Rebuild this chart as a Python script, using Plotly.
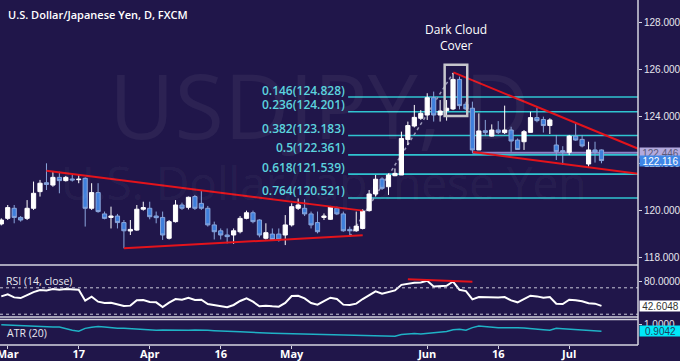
import pandas as pd
import plotly.graph_objects as go

# ---------------- data ----------------
dates = pd.bdate_range("2015-02-27", "2015-07-08").strftime("%Y-%m-%d").tolist()

open_ = [119.41, 119.65, 120.08, 119.69, 119.65, 120.08, 120.79, 121.17, 121.07, 121.40,
         121.26, 121.33, 121.30, 121.36, 120.08, 120.75, 119.84, 119.69, 119.75, 119.47,
         119.11, 119.15, 120.04, 120.08, 119.75, 119.69, 118.80, 119.51, 120.22, 120.12,
         120.58, 120.29, 120.08, 119.37, 119.12, 118.94, 118.94, 119.08, 119.65, 119.89,
         119.58, 118.80, 118.98, 118.98, 118.94, 119.37, 120.08, 120.08, 119.84, 119.47,
         119.69, 119.61, 120.08, 119.84, 119.18, 119.12, 119.22, 119.98, 120.69, 121.33,
         121.00, 121.47, 121.50, 123.02, 123.59, 123.92, 124.06, 124.80, 124.06, 124.25,
         124.32, 125.58, 124.52, 124.35, 122.57, 123.39, 123.16, 123.42, 123.31, 123.42,
         122.99, 122.92, 123.32, 123.95, 123.87, 123.61, 122.78, 122.54, 122.47, 123.16,
         123.02, 121.97, 122.57, 122.57]
high = [119.65, 120.22, 120.22, 119.75, 120.43, 121.22, 121.29, 122.00, 121.64, 121.64,
        121.46, 121.50, 121.50, 121.40, 121.15, 121.15, 119.94, 120.15, 119.84, 119.58,
        119.58, 120.22, 120.36, 120.36, 119.94, 119.94, 119.58, 120.43, 120.32, 120.58,
        120.65, 120.86, 120.18, 119.51, 119.22, 119.22, 119.22, 119.75, 119.98, 119.98,
        119.61, 119.44, 119.22, 119.22, 119.79, 120.29, 120.50, 120.46, 119.94, 119.94,
        119.86, 120.18, 120.15, 119.94, 119.30, 119.94, 120.04, 120.86, 121.50, 121.40,
        121.57, 121.78, 123.35, 123.78, 124.49, 124.27, 124.99, 125.06, 124.70, 124.70,
        125.86, 125.70, 124.63, 124.63, 124.13, 123.85, 123.66, 123.80, 124.46, 123.56,
        123.06, 123.42, 124.20, 124.37, 123.99, 123.92, 123.21, 122.73, 123.21, 123.73,
        123.21, 122.92, 122.92, 122.59]
low = [119.35, 119.58, 119.44, 119.51, 119.58, 120.01, 120.58, 120.86, 121.00, 120.72,
       121.22, 121.22, 121.15, 119.30, 120.01, 119.89, 119.61, 119.22, 119.22, 118.37,
       118.94, 119.12, 119.98, 119.61, 119.44, 118.73, 118.75, 119.47, 120.01, 120.03,
       120.01, 120.01, 119.30, 118.75, 118.75, 118.58, 118.56, 119.01, 119.61, 119.44,
       118.84, 118.75, 118.73, 118.66, 118.51, 119.30, 120.01, 119.75, 119.22, 119.01,
       119.58, 119.58, 119.79, 119.08, 118.88, 119.08, 119.18, 119.94, 120.58, 120.86,
       120.65, 121.45, 121.50, 122.78, 123.53, 123.85, 123.85, 123.78, 123.78, 123.82,
       124.27, 124.30, 124.27, 122.45, 122.57, 123.16, 123.14, 123.25, 123.25, 122.49,
       122.57, 122.57, 123.31, 123.75, 123.31, 123.25, 122.14, 121.93, 122.35, 122.96,
       122.68, 121.86, 122.03, 122.00]
close = [119.58, 120.11, 119.69, 119.58, 120.08, 120.72, 121.15, 121.10, 121.40, 121.26,
         121.40, 121.29, 121.32, 120.08, 120.75, 119.94, 119.65, 119.75, 119.47, 119.12,
         119.18, 120.04, 120.11, 119.72, 119.68, 118.94, 119.51, 120.22, 120.08, 120.55,
         120.08, 120.08, 119.37, 119.08, 118.94, 118.87, 119.12, 119.65, 119.89, 119.51,
         118.94, 119.04, 118.75, 118.73, 119.37, 120.15, 120.22, 119.84, 119.37, 119.08,
         119.75, 120.15, 119.84, 119.12, 119.12, 119.32, 119.96, 120.69, 121.32, 120.93,
         121.50, 121.57, 123.06, 123.61, 123.96, 124.13, 124.80, 124.06, 124.23, 124.35,
         125.58, 124.46, 124.32, 122.57, 123.38, 123.32, 123.42, 123.32, 123.42, 122.95,
         122.59, 123.35, 123.95, 123.82, 123.61, 123.85, 122.50, 122.48, 123.16, 122.99,
         122.74, 122.57, 122.48, 122.116]

rsi = [57, 60, 55.5, 54.5, 59, 63.5, 66.5, 66, 68, 67,
       68, 67, 67, 50.5, 56.5, 49, 47, 47.5, 45.5, 42.5,
       43, 51, 51.5, 48.5, 48, 41, 47.5, 53, 52, 55,
       51.5, 52, 45.5, 43.5, 42, 40.5, 44, 50, 54, 49,
       42, 43, 42, 41.5, 47, 57.5, 58, 54, 47, 44.5,
       50, 55, 53, 44.5, 44, 46, 53, 59, 64.5, 61,
       64, 66, 74.5, 76.5, 77.5, 78, 80.5, 72, 72.5, 73,
       79.5, 67, 65, 52.5, 56, 55.5, 56, 55.5, 56, 51,
       48, 53, 58, 57, 55, 56, 46, 45.5, 52, 51,
       49.5, 46.5, 46, 42.6048]

atr = [0.995, 0.99, 0.985, 0.98, 0.978, 0.977, 0.972, 0.968, 0.965, 0.963,
       0.94, 0.92, 0.905, 0.945, 0.96, 0.972, 0.965, 0.955, 0.945, 0.948,
       0.94, 0.935, 0.928, 0.922, 0.918, 0.922, 0.92, 0.925, 0.92, 0.918,
       0.922, 0.925, 0.918, 0.912, 0.905, 0.902, 0.9, 0.896, 0.89, 0.886,
       0.883, 0.88, 0.877, 0.875, 0.872, 0.87, 0.867, 0.866, 0.862, 0.858,
       0.855, 0.852, 0.849, 0.848, 0.846, 0.845, 0.844, 0.842, 0.84, 0.838,
       0.836, 0.835, 0.86, 0.868, 0.872, 0.865, 0.872, 0.885, 0.895, 0.9,
       0.925, 0.932, 0.918, 0.955, 0.978, 0.97, 0.958, 0.952, 0.955, 0.958,
       0.955, 0.95, 0.945, 0.935, 0.925, 0.918, 0.945, 0.94, 0.935, 0.932,
       0.925, 0.918, 0.912, 0.9042]

fib_ratios = ["0.146", "0.236", "0.382", "0.5", "0.618", "0.764"]
fib_levels = [124.828, 124.201, 123.183, 122.361, 121.539, 120.521]

price_ticks = [118, 120, 122, 124, 126, 128]
month_tick_dates = ["2015-03-02", "2015-03-17", "2015-04-01", "2015-04-16",
                    "2015-05-01", "2015-06-01", "2015-06-16", "2015-07-01"]
month_tick_text = ["Mar", "17", "Apr", "16", "May", "Jun", "16", "Jul"]

last_price = 122.116
level_line = 122.446
rsi_last = 42.6048
atr_last = 0.9042

# trend lines (category index, value)
upper_left = [(7, 121.68), (56, 119.98)]
lower_left = [(19, 118.37), (56, 118.93)]
upper_right = [(70.05, 125.88), (98.7, 122.62)]
lower_right = [(73.1, 122.48), (98.7, 121.55)]
rsi_div = [(63, 83.0), (73, 79.3)]
fib_swing = [(54, 118.876), (70, 125.845)]

# ---------------- layout constants ----------------
W, H = 680, 361
PW, PH = 638, 345   # plot area (pixels)
BG = "#20164a"
WHITE = "#ffffff"
BLUE = "#3f7fdc"
CYAN = "#2fc4d0"
RED = "#e3131b"
GRID = "#d4d4e0"


def fx(px):
    return px / PW


def fy(py):
    return (PH - py) / PH


X_RANGE = [-0.2, 98.66]

fig = go.Figure()

fig.add_trace(go.Candlestick(
    x=dates, open=open_, high=high, low=low, close=close,
    xaxis="x", yaxis="y",
    increasing=dict(line=dict(color=WHITE, width=1), fillcolor=WHITE),
    decreasing=dict(line=dict(color="#8aa6dc", width=1), fillcolor=BLUE),
    whiskerwidth=0, showlegend=False, hoverinfo="skip",
))
fig.add_trace(go.Scatter(x=dates, y=rsi, xaxis="x", yaxis="y2", mode="lines",
                         line=dict(color=WHITE, width=2), showlegend=False, hoverinfo="skip"))
fig.add_trace(go.Scatter(x=dates, y=atr, xaxis="x", yaxis="y3", mode="lines",
                         line=dict(color="#1fb2c6", width=1.5), showlegend=False, hoverinfo="skip"))

shapes = []
for lv in fib_levels:
    shapes.append(dict(type="line", xref="x", yref="y", x0=53.74, x1=99, y0=lv, y1=lv,
                       line=dict(color=CYAN, width=1.6), layer="below"))
shapes.append(dict(type="line", xref="x", yref="y", x0=73, x1=99, y0=level_line, y1=level_line,
                   line=dict(color="#8f84c8", width=2), layer="below"))
shapes.append(dict(type="line", xref="x", yref="y", x0=fib_swing[0][0], y0=fib_swing[0][1],
                   x1=fib_swing[1][0], y1=fib_swing[1][1],
                   line=dict(color="#9a98b8", width=1.5, dash="dot"), layer="below"))
for seg in [upper_left, lower_left, upper_right, lower_right]:
    shapes.append(dict(type="line", xref="x", yref="y", x0=seg[0][0], y0=seg[0][1],
                       x1=seg[1][0], y1=seg[1][1], line=dict(color=RED, width=2)))
shapes.append(dict(type="line", xref="x", yref="y2", x0=rsi_div[0][0], y0=rsi_div[0][1],
                   x1=rsi_div[1][0], y1=rsi_div[1][1], line=dict(color=RED, width=2)))
shapes.append(dict(type="rect", xref="x", yref="y", x0=68.7, x1=72.2, y0=124.02, y1=126.2,
                   line=dict(color="#c6c6cc", width=2.5)))
for lv in [70, 30]:
    shapes.append(dict(type="line", xref="paper", yref="y2", x0=0, x1=1, y0=lv, y1=lv,
                       line=dict(color="#c8c8d8", width=1, dash="dot")))
for py in [265, 317, 319.5, 345]:
    shapes.append(dict(type="line", xref="paper", yref="paper", x0=0, x1=1,
                       y0=fy(py), y1=fy(py), line=dict(color=GRID, width=1.5)))
shapes.append(dict(type="line", xref="paper", yref="paper", x0=1, x1=1, y0=0, y1=1,
                   line=dict(color=GRID, width=1.5)))

ann = []
ann.append(dict(text="USDJPY, D", xref="paper", yref="paper", x=fx(319), y=fy(104),
                xanchor="center", yanchor="middle", showarrow=False,
                font=dict(family="Open Sans", size=90, color="rgba(255,255,255,0.055)")))
ann.append(dict(text="U.S. Dollar/Japanese Yen", xref="paper", yref="paper", x=fx(324), y=fy(182),
                xanchor="center", yanchor="middle", showarrow=False,
                font=dict(family="Open Sans", size=46, color="rgba(255,255,255,0.055)")))
ann.append(dict(text="U.S. Dollar/Japanese Yen, D, FXCM", xref="paper", yref="paper",
                x=fx(6), y=fy(14), xanchor="left", yanchor="middle", showarrow=False,
                font=dict(family="Open Sans", size=11, color=WHITE, weight=600)))
ann.append(dict(text="Dark Cloud<br>Cover", xref="paper", yref="paper",
                x=fx(456), y=fy(37), xanchor="center", yanchor="middle", showarrow=False,
                align="center", font=dict(family="Open Sans", size=12, color=WHITE)))
for r, lv in zip(fib_ratios, fib_levels):
    ann.append(dict(text=f"{r}({lv:.3f})", xref="x", yref="y", x=53.5, y=lv,
                    xanchor="right", yanchor="middle", yshift=7, showarrow=False,
                    font=dict(family="Open Sans", size=12, color="#5cd3de", weight=600)))
ann.append(dict(text="RSI (14, close)", xref="paper", yref="paper", x=fx(4), y=fy(280.5),
                xanchor="left", yanchor="middle", showarrow=False,
                font=dict(family="Open Sans", size=10.5, color="#e8e8f0")))
ann.append(dict(text="ATR (20)", xref="paper", yref="paper", x=fx(5), y=fy(332.5),
                xanchor="left", yanchor="middle", showarrow=False,
                font=dict(family="Open Sans", size=10.5, color="#e8e8f0")))
for val, yref, bg, fg in [(level_line, "y", "#b3aade", "#5a5a7a"),
                          (last_price, "y", "#3f86e6", WHITE),
                          (rsi_last, "y2", "#ffffff", "#333333"),
                          (atr_last, "y3", "#00e8f8", "#204060")]:
    txt = f"{val:.3f}" if yref == "y" else f"{val:.4f}"
    ann.append(dict(text=txt, xref="paper", yref=yref, x=1, y=val, xanchor="left",
                    yanchor="middle", showarrow=False, xshift=0.5, width=41, height=10,
                    bgcolor=bg, borderpad=0,
                    font=dict(family="Liberation Sans", size=10, color=fg)))

axis_font = dict(family="Liberation Sans", size=10, color="#e6e6ee")
common_y = dict(anchor="x", side="right", showgrid=False, zeroline=False, tickmode="array",
                ticks="outside", ticklen=3, tickcolor=GRID, tickfont=axis_font,
                automargin=False, fixedrange=True)

fig.update_layout(
    width=W, height=H,
    margin=dict(l=0, r=W - PW, t=0, b=H - PH, autoexpand=False),
    paper_bgcolor=BG, plot_bgcolor=BG,
    showlegend=False, hovermode=False,
    boxgap=0.35, boxgroupgap=0,
    shapes=shapes, annotations=ann,
    xaxis=dict(type="category", domain=[0, 1], anchor="y3", range=X_RANGE,
               rangeslider=dict(visible=False), showgrid=False, zeroline=False,
               tickmode="array", tickvals=month_tick_dates, ticktext=month_tick_text,
               ticks="outside", ticklen=3, tickcolor=GRID, showline=False,
               ticklabelstandoff=-4,
               automargin=False, fixedrange=True,
               tickfont=dict(family="Open Sans", size=11, color=WHITE, weight=700)),
    yaxis=dict(domain=[fy(265), 1], range=[117.66, 128.968], tickvals=price_ticks,
               ticktext=[f"{v:.3f}" for v in price_ticks], **common_y),
    yaxis2=dict(domain=[fy(317), fy(265)], range=[25.8, 104.5], tickvals=[80],
                ticktext=["80.0000"], **common_y),
    yaxis3=dict(domain=[0, fy(319.5)], range=[0.7124, 1.0686], tickvals=[1.0],
                ticktext=["1.0000"], **common_y),
)

fig.write_html("out.html", config={"displayModeBar": False},
               post_script="document.body.style.margin='0';")
